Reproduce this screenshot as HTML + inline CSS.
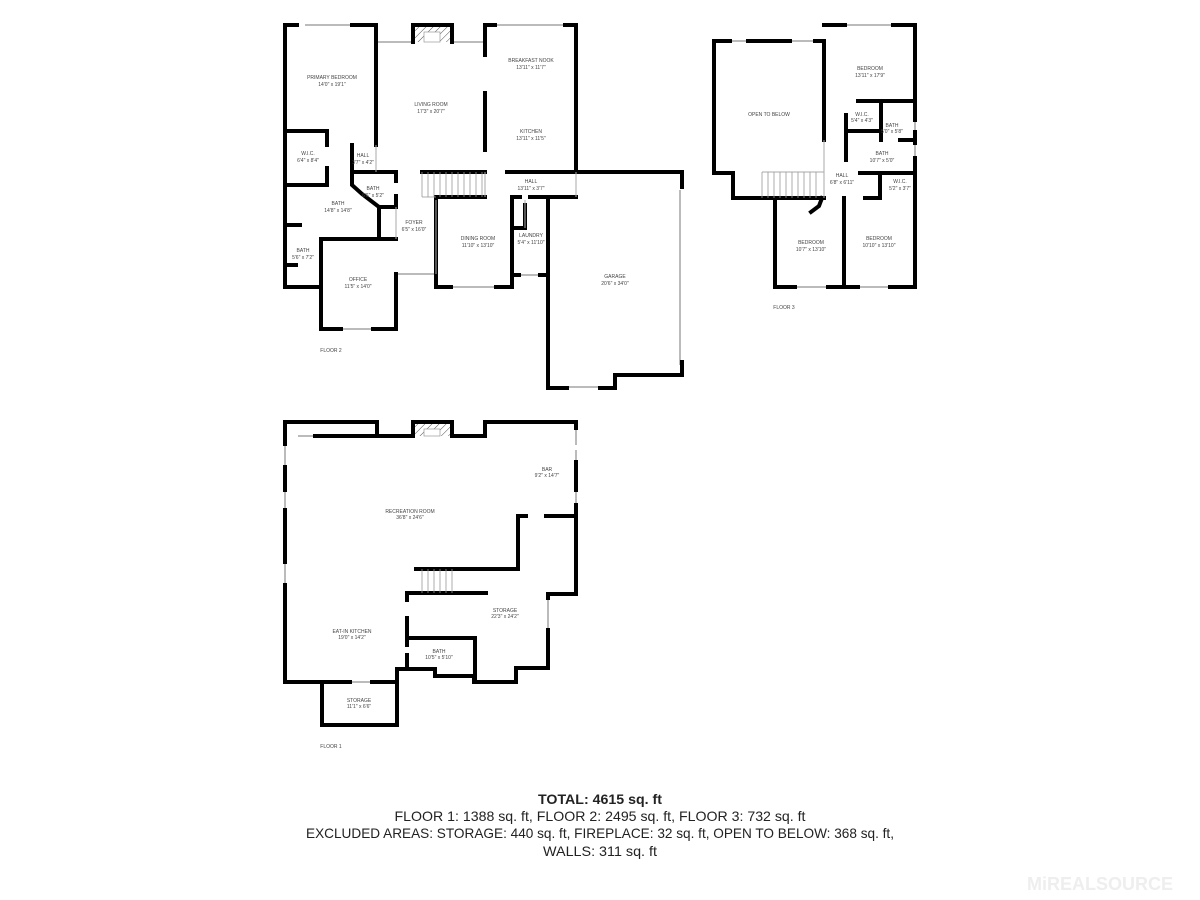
<!DOCTYPE html>
<html><head><meta charset="utf-8"><style>
html,body{margin:0;padding:0;background:#fff;}
svg{display:block;}
.w{fill:none;stroke:#000;stroke-width:4;stroke-linecap:square;stroke-linejoin:miter;}
.t{fill:none;stroke:#000;stroke-width:3;}
.g{fill:none;stroke:#bbb;stroke-width:2;}
.l{fill:none;stroke:#aaa;stroke-width:1;}
.lab{font-family:"Liberation Sans",sans-serif;font-size:5px;fill:#444;text-anchor:middle;}
.sum{font-family:"Liberation Sans",sans-serif;font-size:14px;fill:#222;text-anchor:middle;}
</style></head><body>
<svg width="1200" height="900" viewBox="0 0 1200 900" xmlns="http://www.w3.org/2000/svg">
<defs>
<pattern id="h" width="5" height="5" patternUnits="userSpaceOnUse" patternTransform="rotate(45)"><line x1="0" y1="0" x2="0" y2="5" stroke="#555" stroke-width="1"/></pattern>
</defs>

<!-- ============ FLOOR 2 ============ -->
<!-- windows -->
<line class="g" x1="305" y1="25" x2="352" y2="25"/>
<line class="g" x1="378" y1="42" x2="412" y2="42"/>
<line class="g" x1="453" y1="42" x2="484" y2="42"/>
<line class="g" x1="495" y1="25" x2="565" y2="25"/>
<line class="g" x1="680" y1="190" x2="680" y2="365"/>
<line class="g" x1="567" y1="387" x2="600" y2="387"/>
<line class="g" x1="451" y1="287" x2="496" y2="287"/>
<line class="g" x1="341" y1="329" x2="373" y2="329"/>
<line class="g" x1="396" y1="274" x2="436" y2="274"/>
<line class="g" x1="519" y1="275" x2="540" y2="275"/>
<line class="g" x1="285" y1="190" x2="285" y2="215"/>
<line class="g" x1="285" y1="245" x2="285" y2="262"/>
<line class="g" x1="576" y1="113" x2="576" y2="140"/>
<!-- fireplace -->
<rect x="413" y="27" width="39" height="15" fill="url(#h)"/>
<rect x="424" y="32" width="16" height="10" fill="#fff" stroke="#999" stroke-width="0.7"/>
<polyline class="w" points="413,42 413,25 452,25 452,42"/>
<!-- outer walls -->
<polyline class="w" points="297,25 285,25 285,287 321,287"/>
<polyline class="w" points="352,25 376,25 376,145"/>
<line class="w" x1="376" y1="42" x2="376" y2="42"/>
<polyline class="w" points="485,42 485,25 495,25"/>
<polyline class="w" points="565,25 576,25 576,172"/>
<line class="w" x1="485" y1="25" x2="485" y2="55"/>
<line class="w" x1="485" y1="93" x2="485" y2="150"/>
<polyline class="w" points="507,172 682,172 682,187"/>
<line class="w" x1="682" y1="362" x2="682" y2="375"/>
<polyline class="w" points="682,375 615,375 615,388 600,388"/>
<polyline class="w" points="567,388 548,388 548,197 576,197"/>
<!-- office -->
<polyline class="w" points="321,239 321,329 341,329"/>
<polyline class="w" points="373,329 396,329 396,274"/>
<polyline class="w" points="321,239 396,239"/>
<!-- dining -->
<polyline class="w" points="436,197 436,287 451,287"/>
<polyline class="w" points="496,287 512,287 512,197 520,197"/>
<line class="w" x1="530" y1="197" x2="548" y2="197"/>
<polyline class="w" points="512,275 519,275"/>
<polyline class="w" points="540,275 548,275"/>
<polyline class="w" points="512,228 525,228 525,205"/>
<line class="l" x1="525" y1="200" x2="525" y2="228"/>
<!-- stairs -->
<line class="w" x1="422" y1="172" x2="485" y2="172"/>
<line class="w" x1="436" y1="197" x2="485" y2="197"/>
<g stroke="#999" stroke-width="0.8">
<line x1="422" y1="172" x2="422" y2="197"/><line x1="428" y1="172" x2="428" y2="197"/><line x1="434" y1="172" x2="434" y2="197"/><line x1="440" y1="172" x2="440" y2="197"/><line x1="446" y1="172" x2="446" y2="197"/><line x1="452" y1="172" x2="452" y2="197"/><line x1="458" y1="172" x2="458" y2="197"/><line x1="464" y1="172" x2="464" y2="197"/><line x1="470" y1="172" x2="470" y2="197"/><line x1="476" y1="172" x2="476" y2="197"/><line x1="482" y1="172" x2="482" y2="197"/>
<line x1="422" y1="197" x2="436" y2="197"/>
</g>
<line class="l" x1="485" y1="172" x2="485" y2="197"/>
<line class="l" x1="576" y1="172" x2="576" y2="197"/>
<!-- left interior -->
<polyline class="w" points="285,131 327,131 327,145"/>
<polyline class="w" points="327,168 327,185 285,185"/>
<polyline class="w" points="352,145 352,185 362,194 379,207 396,207"/>
<polyline class="w" points="352,172 396,172 396,181"/>
<line class="w" x1="396" y1="196" x2="396" y2="207"/>
<polyline class="w" points="379,207 379,239"/>
<line class="w" x1="285" y1="225" x2="300" y2="225"/>
<line class="w" x1="285" y1="265" x2="296" y2="265"/>
<line class="l" x1="376" y1="145" x2="376" y2="172"/>
<line class="l" x1="396" y1="207" x2="396" y2="239"/>
<line class="l" x1="436" y1="200" x2="436" y2="274"/>
<text class="lab" x="332" y="79">PRIMARY BEDROOM</text><text class="lab" x="332" y="86">14'0" x 19'1"</text>
<text class="lab" x="431" y="106">LIVING ROOM</text><text class="lab" x="431" y="113">17'3" x 20'7"</text>
<text class="lab" x="531" y="62">BREAKFAST NOOK</text><text class="lab" x="531" y="69">13'11" x 11'7"</text>
<text class="lab" x="531" y="133">KITCHEN</text><text class="lab" x="531" y="140">13'11" x 11'5"</text>
<text class="lab" x="308" y="155">W.I.C.</text><text class="lab" x="308" y="162">6'4" x 8'4"</text>
<text class="lab" x="363" y="157">HALL</text><text class="lab" x="363" y="164">3'7" x 4'2"</text>
<text class="lab" x="373" y="190">BATH</text><text class="lab" x="373" y="197">6'6" x 5'2"</text>
<text class="lab" x="338" y="205">BATH</text><text class="lab" x="338" y="212">14'8" x 14'8"</text>
<text class="lab" x="303" y="252">BATH</text><text class="lab" x="303" y="259">5'6" x 7'2"</text>
<text class="lab" x="414" y="224">FOYER</text><text class="lab" x="414" y="231">6'5" x 16'0"</text>
<text class="lab" x="531" y="183">HALL</text><text class="lab" x="531" y="190">13'11" x 3'7"</text>
<text class="lab" x="478" y="240">DINING ROOM</text><text class="lab" x="478" y="247">11'10" x 13'10"</text>
<text class="lab" x="531" y="237">LAUNDRY</text><text class="lab" x="531" y="244">5'4" x 11'10"</text>
<text class="lab" x="358" y="281">OFFICE</text><text class="lab" x="358" y="288">11'5" x 14'0"</text>
<text class="lab" x="615" y="278">GARAGE</text><text class="lab" x="615" y="285">20'6" x 34'0"</text>
<text class="lab" x="331" y="352">FLOOR 2</text>

<!-- ============ FLOOR 3 ============ -->
<line class="g" x1="730" y1="41" x2="748" y2="41"/>
<line class="g" x1="790" y1="41" x2="815" y2="41"/>
<line class="g" x1="845" y1="25" x2="893" y2="25"/>
<line class="g" x1="795" y1="287" x2="828" y2="287"/>
<line class="g" x1="858" y1="287" x2="890" y2="287"/>
<line class="g" x1="915" y1="120" x2="915" y2="132"/>
<line class="g" x1="915" y1="143" x2="915" y2="158"/>
<polyline class="w" points="730,41 714,41 714,173 733,173 733,198 824,198"/>
<line class="w" x1="748" y1="41" x2="790" y2="41"/>
<polyline class="w" points="815,41 824,41 824,140"/>
<polyline class="w" points="824,25 845,25"/>
<polyline class="w" points="893,25 915,25 915,120"/>
<line class="w" x1="915" y1="158" x2="915" y2="287"/>
<line class="w" x1="915" y1="132" x2="915" y2="143"/>
<polyline class="w" points="775,198 775,287 795,287"/>
<line class="w" x1="828" y1="287" x2="858" y2="287"/>
<line class="w" x1="890" y1="287" x2="915" y2="287"/>
<line class="w" x1="844" y1="198" x2="844" y2="287"/>
<polyline class="w" points="811,212 819,206 822,198"/>
<line class="w" x1="858" y1="101" x2="915" y2="101"/>
<line class="w" x1="881" y1="101" x2="881" y2="140"/>
<line class="w" x1="846" y1="131" x2="881" y2="131"/>
<line class="w" x1="846" y1="115" x2="846" y2="160"/>
<line class="w" x1="900" y1="140" x2="915" y2="140"/>
<line class="w" x1="860" y1="173" x2="915" y2="173"/>
<line class="w" x1="880" y1="173" x2="880" y2="198"/>
<line class="w" x1="865" y1="198" x2="880" y2="198"/>
<line class="l" x1="824" y1="140" x2="824" y2="198"/>
<line class="l" x1="762" y1="172" x2="824" y2="172"/>
<g stroke="#999" stroke-width="0.8">
<line x1="762" y1="172" x2="762" y2="198"/><line x1="768" y1="172" x2="768" y2="198"/><line x1="774" y1="172" x2="774" y2="198"/><line x1="780" y1="172" x2="780" y2="198"/><line x1="786" y1="172" x2="786" y2="198"/><line x1="792" y1="172" x2="792" y2="198"/><line x1="798" y1="172" x2="798" y2="198"/><line x1="804" y1="172" x2="804" y2="198"/><line x1="810" y1="172" x2="810" y2="198"/><line x1="816" y1="172" x2="816" y2="198"/>
</g>
<text class="lab" x="769" y="116">OPEN TO BELOW</text>
<text class="lab" x="870" y="70">BEDROOM</text><text class="lab" x="870" y="77">13'11" x 17'9"</text>
<text class="lab" x="862" y="116">W.I.C.</text><text class="lab" x="862" y="122">5'4" x 4'3"</text>
<text class="lab" x="892" y="127">BATH</text><text class="lab" x="892" y="133">5'0" x 5'8"</text>
<text class="lab" x="882" y="155">BATH</text><text class="lab" x="882" y="162">10'7" x 5'0"</text>
<text class="lab" x="842" y="177">HALL</text><text class="lab" x="842" y="184">6'8" x 6'11"</text>
<text class="lab" x="900" y="183">W.I.C.</text><text class="lab" x="900" y="190">5'2" x 3'7"</text>
<text class="lab" x="811" y="244">BEDROOM</text><text class="lab" x="811" y="251">10'7" x 13'10"</text>
<text class="lab" x="879" y="240">BEDROOM</text><text class="lab" x="879" y="247">10'10" x 13'10"</text>
<text class="lab" x="784" y="309">FLOOR 3</text>

<!-- ============ FLOOR 1 ============ -->
<line class="g" x1="298" y1="436" x2="315" y2="436"/>
<line class="g" x1="285" y1="444" x2="285" y2="467"/>
<line class="g" x1="285" y1="490" x2="285" y2="510"/>
<line class="g" x1="285" y1="562" x2="285" y2="585"/>
<line class="g" x1="576" y1="428" x2="576" y2="445"/>
<line class="g" x1="576" y1="450" x2="576" y2="462"/>
<line class="g" x1="576" y1="490" x2="576" y2="505"/>
<line class="g" x1="548" y1="598" x2="548" y2="630"/>
<line class="g" x1="350" y1="682" x2="372" y2="682"/>
<rect x="415" y="424" width="37" height="12" fill="url(#h)"/>
<rect x="424" y="429" width="16" height="7" fill="#fff" stroke="#999" stroke-width="0.7"/>
<polyline class="w" points="285,436 285,422 377,422 377,436 413,436 413,422 452,422 452,436 485,436 485,422 576,422 576,428"/>
<line class="w" x1="576" y1="462" x2="576" y2="490"/>
<polyline class="w" points="576,505 576,594 548,594 548,598"/>
<polyline class="w" points="548,630 548,668 516,668 516,682 474,682 474,676 435,676 435,669 397,669 397,725 322,725 322,682 350,682"/>
<line class="w" x1="372" y1="682" x2="397" y2="682"/>
<polyline class="w" points="322,682 285,682 285,585"/>
<line class="w" x1="285" y1="510" x2="285" y2="562"/>
<line class="w" x1="285" y1="467" x2="285" y2="490"/>
<line class="w" x1="285" y1="436" x2="285" y2="444"/>
<line class="w" x1="315" y1="436" x2="377" y2="436"/>
<polyline class="w" points="416,569 518,569 518,516 526,516"/>
<line class="w" x1="546" y1="516" x2="576" y2="516"/>
<line class="w" x1="407" y1="593" x2="486" y2="593"/>
<line class="w" x1="407" y1="593" x2="407" y2="600"/>
<line class="w" x1="407" y1="618" x2="407" y2="645"/>
<line class="w" x1="407" y1="655" x2="407" y2="669"/>
<polyline class="w" points="407,638 475,638 475,682"/>
<g stroke="#999" stroke-width="0.8">
<line x1="422" y1="569" x2="422" y2="593"/><line x1="428" y1="569" x2="428" y2="593"/><line x1="434" y1="569" x2="434" y2="593"/><line x1="440" y1="569" x2="440" y2="593"/><line x1="446" y1="569" x2="446" y2="593"/><line x1="452" y1="569" x2="452" y2="593"/>
</g>
<text class="lab" x="410" y="513">RECREATION ROOM</text><text class="lab" x="410" y="519">36'8" x 24'6"</text>
<text class="lab" x="547" y="471">BAR</text><text class="lab" x="547" y="477">9'2" x 14'7"</text>
<text class="lab" x="505" y="612">STORAGE</text><text class="lab" x="505" y="618">22'3" x 24'2"</text>
<text class="lab" x="352" y="633">EAT-IN KITCHEN</text><text class="lab" x="352" y="639">19'0" x 14'2"</text>
<text class="lab" x="439" y="653">BATH</text><text class="lab" x="439" y="659">10'5" x 5'10"</text>
<text class="lab" x="359" y="702">STORAGE</text><text class="lab" x="359" y="708">11'1" x 6'6"</text>
<text class="lab" x="331" y="748">FLOOR 1</text>

<!-- summary -->
<text class="sum" x="600" y="804" font-weight="bold" textLength="124" lengthAdjust="spacingAndGlyphs">TOTAL: 4615 sq. ft</text>
<text class="sum" x="600" y="821" textLength="411" lengthAdjust="spacingAndGlyphs">FLOOR 1: 1388 sq. ft, FLOOR 2: 2495 sq. ft, FLOOR 3: 732 sq. ft</text>
<text class="sum" x="600" y="838" textLength="588" lengthAdjust="spacingAndGlyphs">EXCLUDED AREAS: STORAGE: 440 sq. ft, FIREPLACE: 32 sq. ft, OPEN TO BELOW: 368 sq. ft,</text>
<text class="sum" x="600" y="856" textLength="114" lengthAdjust="spacingAndGlyphs">WALLS: 311 sq. ft</text>

<text x="1100" y="890" font-family="Liberation Sans,sans-serif" font-size="18" font-weight="bold" fill="#eee" text-anchor="middle">MiREALSOURCE</text>
</svg>
</body></html>
